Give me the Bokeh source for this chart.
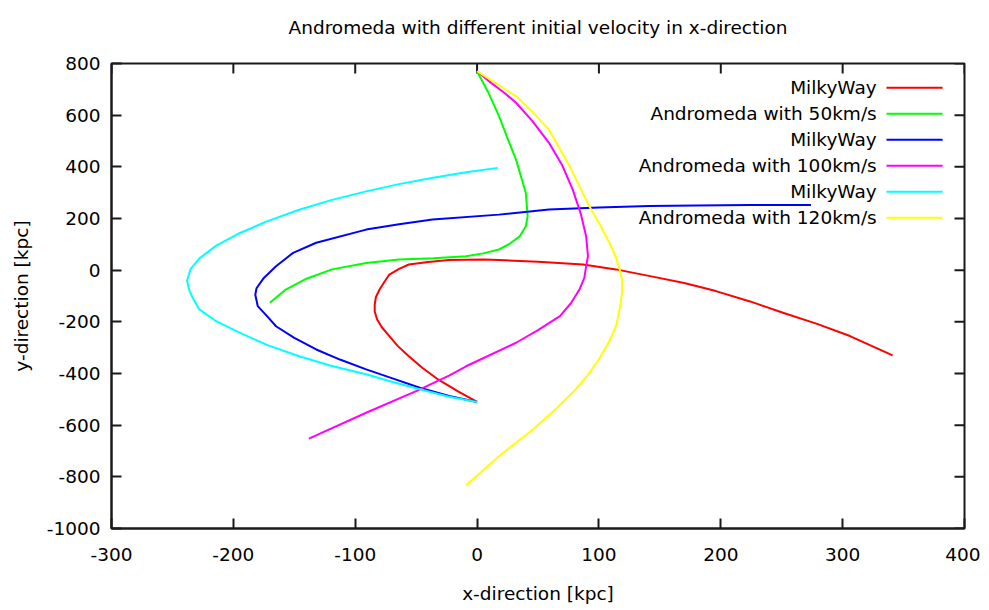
from bokeh.plotting import figure
from bokeh.models import FixedTicker, Range1d, Title
from bokeh.core.properties import value
from bokeh.embed import file_html
from bokeh.resources import INLINE

FONT = "DejaVu Sans"

# ---- data (kpc) ----
mw50_x = [0, -16, -32, -45, -56, -65, -72, -78, -82, -84, -84, -83, -80, -76, -72, -64, -56, -40, -23, 5, 18, 50, 87, 114, 142, 170, 196, 224, 251, 279, 306, 341]
mw50_y = [-510, -468, -423, -378, -333, -294, -255, -222, -191, -160, -133, -104, -75, -45, -17, 5, 22, 32, 39, 41, 39, 33, 22, 3, -23, -50, -81, -121, -165, -208, -255, -330]

and50_x = [0, 9, 18, 25, 32, 40, 41.5, 40, 35, 27, 18, 5, -9, -36, -64, -91, -119, -140, -157, -170]
and50_y = [770, 690, 596, 510, 428, 299, 209, 170, 131, 103, 80, 65, 54, 46, 41, 28, 3, -33, -75, -126]

mw100_x = [0, -23, -47, -70, -91, -112, -132, -150, -165, -172, -180, -182, -181, -175, -165, -151, -132, -91, -64, -36.5, 18, 59, 100, 141, 180, 224, 274]
mw100_y = [-510, -487, -455, -418, -384, -347, -307, -262, -217, -180, -139, -95, -70, -30, 15, 67, 106, 157, 178, 196, 215, 235, 243, 248, 250, 252, 252]

and100_x = [0, 11.5, 22, 32, 45.6, 59, 70, 78.5, 85, 89.5, 91, 89.5, 88, 84, 77, 68, 50, 32, 5, -9, -23, -50, -91, -138]
and100_y = [770, 725, 688, 648, 576, 493, 405, 312, 220, 131, 54, 15, -30, -75, -128, -178, -232, -281, -341, -372, -408, -468, -552, -652]

mw120_x = [0, -23, -47, -70, -91, -120, -146, -172, -195, -215, -228, -233, -236, -238, -235, -228, -214, -195, -173, -146, -119, -91, -64, -36, -9, 17]
mw120_y = [-510, -490, -461, -432, -403, -370, -333, -290, -242, -195, -152, -110, -80, -40, 5, 45, 95, 143, 188, 234, 272, 305, 333, 358, 379, 396]

and120_x = [0, 16, 32, 46, 59, 76, 92, 101, 108.6, 114, 117, 119, 119, 117, 114, 108, 100, 91, 81, 64, 46, 18, -9]
and120_y = [770, 722, 673, 610, 544, 402, 248, 175, 106, 50, 3, -40, -88, -150, -217, -280, -345, -405, -461, -540, -616, -720, -833]

series_x = [mw50_x, and50_x, mw100_x, and100_x, mw120_x, and120_x]
series_y = [mw50_y, and50_y, mw100_y, and100_y, mw120_y, and120_y]
labels = ["MilkyWay", "Andromeda with 50km/s", "MilkyWay",
          "Andromeda with 100km/s", "MilkyWay", "Andromeda with 120km/s"]
colors = ["#ff0000", "#00ff00", "#0000ff", "#ff00ff", "#00ffff", "#ffff00"]

x_ticks = [-300, -200, -100, 0, 100, 200, 300, 400]
y_ticks = [-1000, -800, -600, -400, -200, 0, 200, 400, 600, 800]

TITLE = "Andromeda with different initial velocity in x-direction"

# ---- layout ----
FRAME_W, FRAME_H = 853, 465
X0, X1, Y0, Y1 = -300, 400, -1000, 800
TICK_PX = 10
AXIS_COLOR = "#1a1a1a"

p = figure(width=980, height=610, output_backend="svg", toolbar_location=None,
           x_range=Range1d(X0, X1), y_range=Range1d(Y0, Y1),
           min_border_left=111, min_border_right=16, min_border_top=63, min_border_bottom=82,
           title=TITLE)
p.title.text_font = FONT
p.title.text_font_size = "18.5px"
p.title.text_font_style = "normal"
p.title.text_color = "black"
p.title.align = "center"
p.title.standoff = 4
# blank spacer between the title and the plot frame
p.add_layout(Title(text=" ", text_font_size="1px", standoff=21), "above")

p.grid.visible = False
p.outline_line_color = AXIS_COLOR
p.outline_line_width = 2
p.background_fill_color = "white"
p.border_fill_color = "white"

for ax in (p.xaxis[0], p.yaxis[0]):
    ax.major_tick_in = TICK_PX
    ax.major_tick_out = 0
    ax.minor_tick_in = 0
    ax.minor_tick_out = 0
    ax.minor_tick_line_color = None
    ax.axis_line_width = 2
    ax.axis_line_color = AXIS_COLOR
    ax.major_tick_line_width = 2
    ax.major_tick_line_color = AXIS_COLOR
    ax.major_label_text_font = FONT
    ax.major_label_text_font_size = "18.5px"
    ax.major_label_text_color = "black"
    ax.axis_label_text_font = FONT
    ax.axis_label_text_font_size = "18.5px"
    ax.axis_label_text_font_style = "normal"
    ax.axis_label_text_color = "black"

p.xaxis[0].ticker = FixedTicker(ticks=x_ticks)
p.yaxis[0].ticker = FixedTicker(ticks=y_ticks)
p.xaxis[0].major_label_overrides = {t: str(t) for t in x_ticks}
p.yaxis[0].major_label_overrides = {t: str(t) for t in y_ticks}
p.xaxis[0].axis_label = "x-direction [kpc]"
p.yaxis[0].axis_label = "y-direction [kpc]"
p.xaxis[0].major_label_standoff = 19
p.yaxis[0].major_label_standoff = 11
p.xaxis[0].axis_label_standoff = 19
p.yaxis[0].axis_label_standoff = 12

# mirrored ticks on the top and right borders (gnuplot style)
dx_tick = TICK_PX * (X1 - X0) / FRAME_W
dy_tick = TICK_PX * (Y1 - Y0) / FRAME_H
p.segment(x0=x_ticks, x1=x_ticks, y0=[Y1] * len(x_ticks), y1=[Y1 - dy_tick] * len(x_ticks),
          line_color=AXIS_COLOR, line_width=2)
p.segment(x0=[X1] * len(y_ticks), x1=[X1 - dx_tick] * len(y_ticks), y0=y_ticks, y1=y_ticks,
          line_color=AXIS_COLOR, line_width=2)

# curves
for xs, ys, c in zip(series_x, series_y, colors):
    p.line(xs, ys, line_color=c, line_width=2, line_join="round")

# gnuplot-style key: right-aligned text, line sample to the right
key_text_x = 328
key_line_x0, key_line_x1 = 336, 382
key_y0, key_dy = 706, 100.6
key_y = [key_y0 - i * key_dy for i in range(len(labels))]
p.text(x=[key_text_x] * len(labels), y=key_y, text=labels,
       text_align="right", text_baseline="middle",
       text_font=value(FONT), text_font_size="18.5px", text_color="black")
p.segment(x0=[key_line_x0] * len(labels), x1=[key_line_x1] * len(labels),
          y0=key_y, y1=key_y, line_color=colors, line_width=2)

open("out.html", "w").write(file_html(p, INLINE))
